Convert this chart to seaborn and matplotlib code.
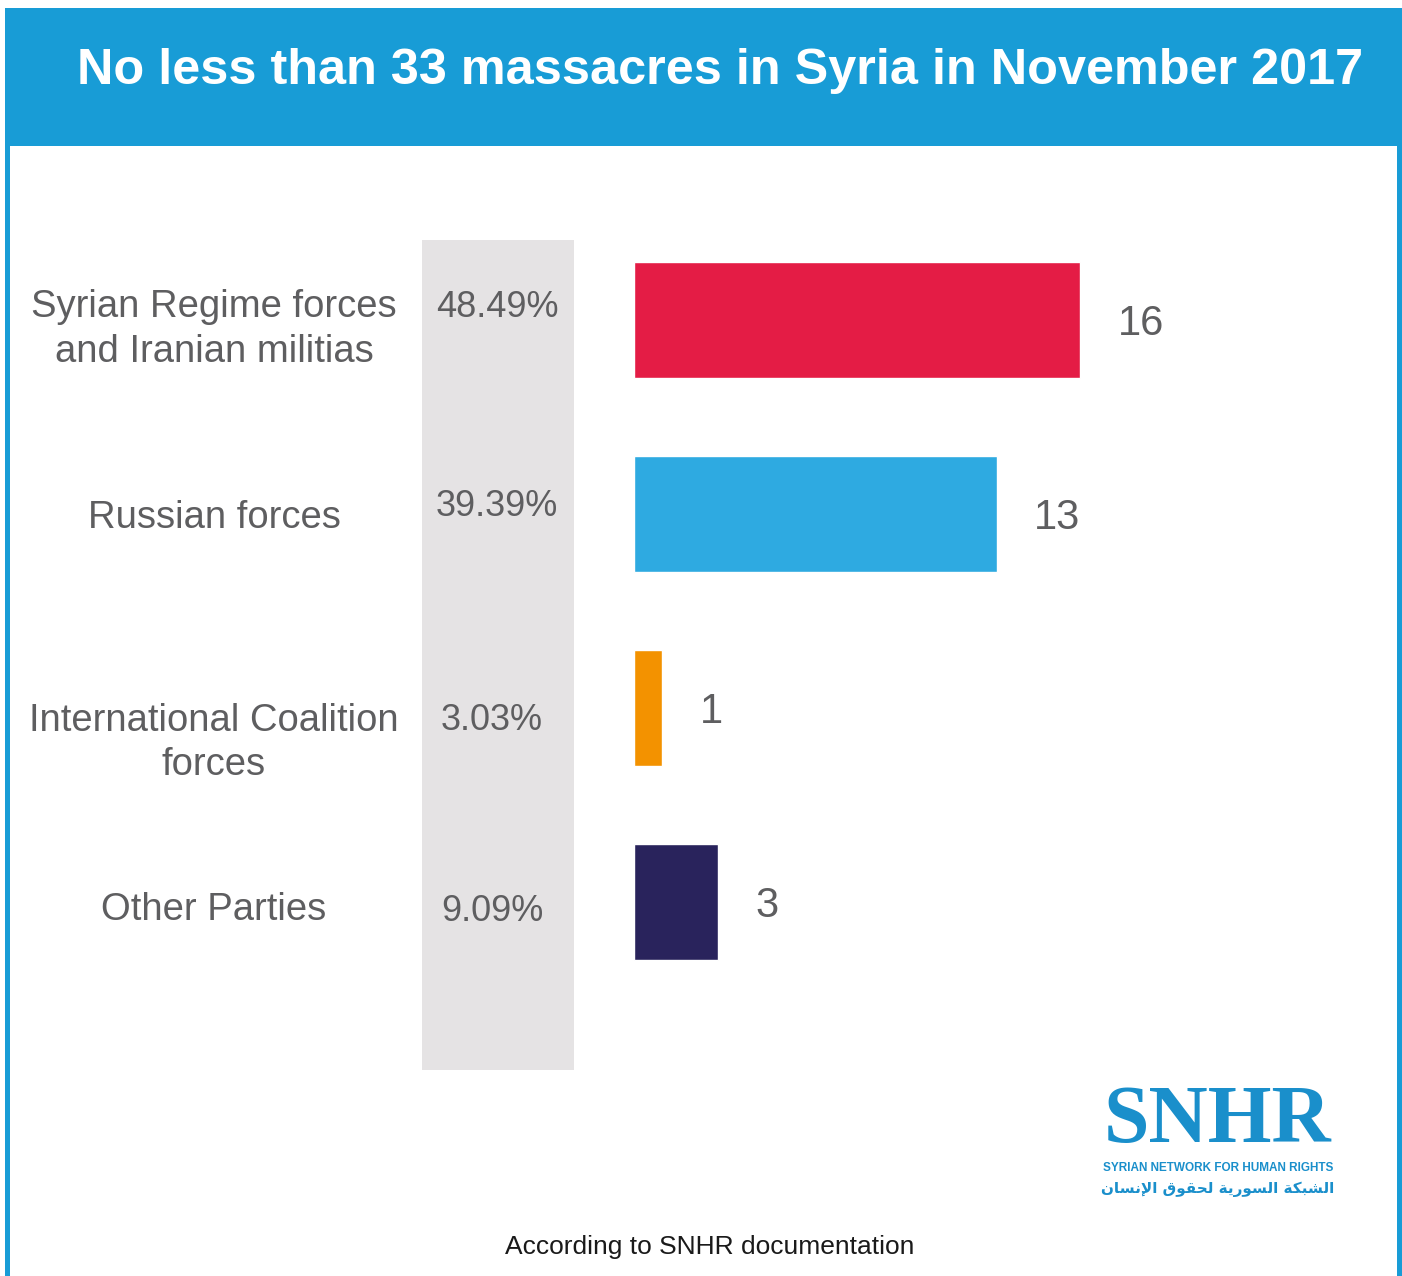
import numpy as np
import pandas as pd
import seaborn as sns
from matplotlib import pyplot as plt
from matplotlib.patches import Rectangle

# data
categories = ["Syrian Regime forces\nand Iranian militias", "Russian forces",
              "International Coalition\nforces", "Other Parties"]
massacres = [16, 13, 1, 3]
shares = ["48.49%", "39.39%", "3.03%", "9.09%"]
bar_colors = ["#e41c45", "#2eaae1", "#f39200", "#29235c"]

title = "No less than 33 massacres in Syria in November 2017"
footer = "According to SNHR documentation"
logo_en = "SYRIAN NETWORK FOR HUMAN RIGHTS"
logo_ar = "الشبكة السورية لحقوق الإنسان"

W, H = 1402, 1276
BLUE = "#189cd6"
GREY_TXT = "#5e5e60"

sns.set_theme(style="white")
plt.rcParams['font.family'] = ['Liberation Sans', 'DejaVu Sans']


# tiny arabic shaper (matplotlib does no shaping / bidi)
FORMS = {  # isolated, final, initial, medial
    'ا': (0xFE8D, 0xFE8E, None, None), 'إ': (0xFE87, 0xFE88, None, None),
    'ب': (0xFE8F, 0xFE90, 0xFE91, 0xFE92), 'ة': (0xFE93, 0xFE94, None, None),
    'ح': (0xFEA1, 0xFEA2, 0xFEA3, 0xFEA4), 'ر': (0xFEAD, 0xFEAE, None, None),
    'س': (0xFEB1, 0xFEB2, 0xFEB3, 0xFEB4), 'ش': (0xFEB5, 0xFEB6, 0xFEB7, 0xFEB8),
    'ق': (0xFED5, 0xFED6, 0xFED7, 0xFED8), 'ك': (0xFED9, 0xFEDA, 0xFEDB, 0xFEDC),
    'ل': (0xFEDD, 0xFEDE, 0xFEDF, 0xFEE0), 'ن': (0xFEE5, 0xFEE6, 0xFEE7, 0xFEE8),
    'و': (0xFEED, 0xFEEE, None, None), 'ي': (0xFEF1, 0xFEF2, 0xFEF3, 0xFEF4),
    '\uE000': (0xFEF9, 0xFEFA, None, None),  # lam + alef with hamza below
}


def shape_ar(s):
    s = s.replace('لإ', '\uE000')
    out = []
    for i, ch in enumerate(s):
        if ch not in FORMS:
            out.append(ch)
            continue
        f = FORMS[ch]
        prev = s[i - 1] if i > 0 else ''
        nxt = s[i + 1] if i + 1 < len(s) else ''
        jp = prev in FORMS and FORMS[prev][2] is not None
        jn = f[2] is not None and nxt in FORMS
        if jp and jn:
            out.append(chr(f[3]))
        elif jp:
            out.append(chr(f[1]))
        elif jn:
            out.append(chr(f[2]))
        else:
            out.append(chr(f[0]))
    return ''.join(out)[::-1]


fig = plt.figure(figsize=(W / 100, H / 100), dpi=100)
fig.patch.set_facecolor("white")


def fx(px):
    return px / W


def fy(py):
    return 1 - py / H


# frame + header
fig.patches.append(Rectangle((fx(5), 0), fx(1397), fy(8), transform=fig.transFigure,
                             facecolor=BLUE, edgecolor="none", zorder=-2))
fig.patches.append(Rectangle((fx(10), 0), fx(1387), fy(146), transform=fig.transFigure,
                             facecolor="white", edgecolor="none", zorder=-1.5))
fig.text(fx(720), fy(71), title, color="white", fontsize=36.3, fontweight="bold",
         ha="center", va="center")

# grey share column
fig.patches.append(Rectangle((fx(422), fy(1070)), fx(152), (1070 - 240) / H,
                             transform=fig.transFigure, facecolor="#e5e3e4",
                             edgecolor="none", zorder=-1))

# bars
df = pd.DataFrame({"cat": categories, "n": massacres})
ax = fig.add_axes([fx(634), fy(1070), fx(760), (1070 - 240) / H])
ax.set_zorder(2)
ax.patch.set_alpha(0)
sns.barplot(data=df, x="n", y="cat", hue="cat", palette=bar_colors, orient="h",
            width=0.6, legend=False, saturation=1, ax=ax)
ax.set_xlim(0, 760 / 27.9)
ax.set_ylim(3.866, -0.412)
ax.set_xlabel("")
ax.set_ylabel("")
ax.set_xticks([])
ax.set_yticks([])
sns.despine(ax=ax, left=True, bottom=True)

for i, p in enumerate(ax.patches[:len(massacres)]):
    ax.annotate(str(massacres[i]), (p.get_width(), p.get_y() + p.get_height() / 2),
                xytext=(27, -3), textcoords="offset points", ha="left", va="center",
                fontsize=30, color=GREY_TXT)

# category labels and shares (left columns)
lab_off = [0.05, 0.02, 0.18, 0.04]
pct_off = [-0.065, -0.04, 0.065, 0.05]
pct_x = [497, 497, 492, 492]
for i, (c, s) in enumerate(zip(categories, shares)):
    y = ax.transData.transform((0, i + lab_off[i]))[1] / fig.dpi / (H / 100)
    fig.text(fx(214), y, c, ha="center", va="center", multialignment="center",
             fontsize=27.5, color=GREY_TXT, linespacing=1.3)
    y2 = ax.transData.transform((0, i + pct_off[i]))[1] / fig.dpi / (H / 100)
    fig.text(fx(pct_x[i]), y2, s, ha="center", va="center", fontsize=26, color=GREY_TXT)

# logo
fig.text(fx(1218), fy(1160), "SNHR", ha="center", va="bottom", color="#1a8fcb",
         fontsize=59, fontweight="bold", family=["Liberation Serif", "DejaVu Serif"])
fig.text(fx(1218), fy(1168), logo_en, ha="center", va="center", color="#1a8fcb",
         fontsize=8.5, fontweight="bold",
         family=["Liberation Sans Narrow", "Liberation Sans"])
fig.text(fx(1218), fy(1189), shape_ar(logo_ar), ha="center", va="center",
         color="#1a8fcb", fontsize=11, fontweight="bold", family=["DejaVu Sans"])

fig.text(fx(710), fy(1247), footer, ha="center", va="center", fontsize=19, color="#1a1a1a")

fig.savefig("out.png", dpi=100, facecolor="white")
